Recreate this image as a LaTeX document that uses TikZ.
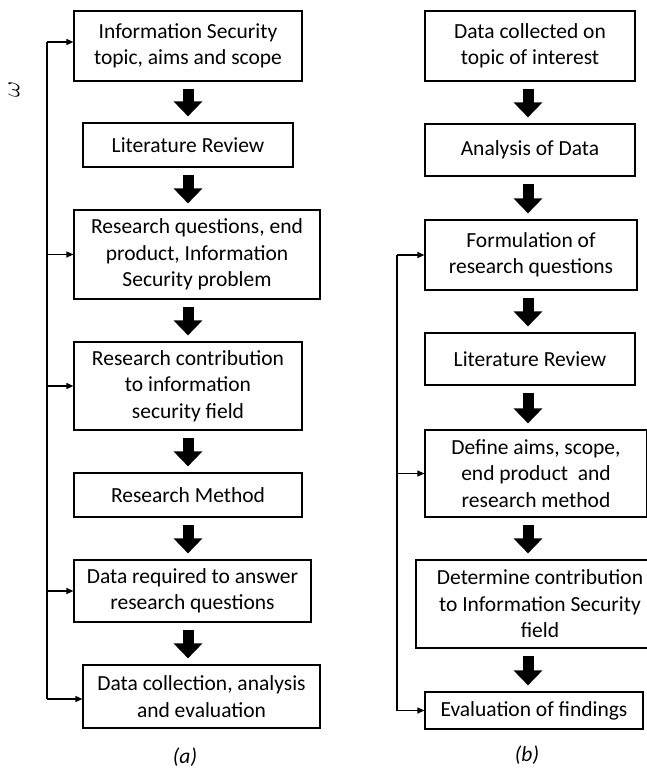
\documentclass[tikz,border=0pt]{standalone}
\usepackage{fontspec}
\setmainfont{Carlito}
\usetikzlibrary{arrows.meta}

\tikzstyle{stepbox} = [draw=black, line width=1.2pt, rectangle, inner sep=0pt,
    align=center, font=\fontsize{21.5}{26.5}\selectfont]
\tikzstyle{bigarrow} = [line width=11pt, -{Triangle[length=15pt,width=28pt]},
    shorten <=7pt, shorten >=6pt]
\tikzstyle{loopline} = [line width=1.4pt]
\tikzstyle{looparrow} = [line width=1.2pt, -{Triangle[length=7pt,width=6pt]}]
\tikzstyle{caption} = [font=\fontsize{21.5}{24}\selectfont\itshape]

\begin{document}
\begin{tikzpicture}[x=1pt,y=-1pt]
\useasboundingbox (0,0) rectangle (646,769);

% (a)
\node [stepbox, minimum width=228pt, minimum height=70pt] (topic) at (188,46)
    {Information Security\\topic, aims and scope};
\node [stepbox, minimum width=210pt, minimum height=44pt] (litrev) at (188,145)
    {Literature Review};
\node [stepbox, minimum width=246pt, minimum height=89pt] (questions) at (197,254.5)
    {Research questions, end\\product, Information\\Security problem};
\node [stepbox, minimum width=228pt, minimum height=88pt] (contrib) at (188,386)
    {Research contribution\\to information\\security field};
\node [stepbox, minimum width=228pt, minimum height=44pt] (method) at (188,495)
    {Research Method};
\node [stepbox, minimum width=237pt, minimum height=62pt] (datareq) at (192.5,591)
    {Data required to answer\\research questions};
\node [stepbox, minimum width=237pt, minimum height=63pt] (collect) at (201.5,696.5)
    {Data collection, analysis\\and evaluation};
\node [caption] (capa) at (185,757) {(a)};
\node [rotate=90, font=\fontsize{26}{26}\selectfont] (mark) at (14,89) {$\omega$};

% (b)
\node [stepbox, minimum width=210pt, minimum height=70pt] (datacoll) at (530,46)
    {Data collected on\\topic of interest};
\node [stepbox, minimum width=210pt, minimum height=52pt] (analysis) at (530,150)
    {Analysis of Data};
\node [stepbox, minimum width=212pt, minimum height=70pt] (formul) at (531,255)
    {Formulation of\\research questions};
\node [stepbox, minimum width=210pt, minimum height=52pt] (litrevb) at (530,359)
    {Literature Review};
\node [stepbox, minimum width=222pt, minimum height=87pt] (define) at (536,473.5)
    {Define aims, scope,\\end product\ \ and\\research method};
\node [stepbox, minimum width=248pt, minimum height=88pt] (determine) at (540,604)
    {Determine contribution\\to Information Security\\field};
\node [stepbox, minimum width=218pt, minimum height=37pt] (evaluate) at (534,710.5)
    {Evaluation of findings};
\node [caption] (capb) at (527,755) {(b)};

\foreach \a/\b in {topic/litrev, litrev/questions, questions/contrib,
    contrib/method, method/datareq, datareq/collect}
    \draw [bigarrow] (\a.south -| topic) -- (\b.north -| topic);
\foreach \a/\b in {datacoll/analysis, analysis/formul, formul/litrevb,
    litrevb/define, define/determine, determine/evaluate}
    \draw [bigarrow] (\a.south -| 528,0) -- (\b.north -| 528,0);

\coordinate (spinea) at (47,0);
\coordinate (spineb) at (397,0);
\draw [loopline] ([yshift=4pt]spinea |- topic.west) -- ([yshift=-2.5pt]spinea |- collect.west);
\draw [looparrow] ([yshift=4pt]spinea |- topic.west) -- ([yshift=4pt]topic.west);
\draw [looparrow] ([yshift=-2.5pt]spinea |- collect.west) -- ([yshift=-2.5pt]collect.west);
\foreach \n in {questions, contrib, datareq}
    \draw [looparrow] (spinea |- \n.west) -- (\n.west);
\draw [loopline] (spineb |- formul.west) -- (spineb |- evaluate.west);
\foreach \n in {formul, define, evaluate}
    \draw [looparrow] (spineb |- \n.west) -- (\n.west);
\end{tikzpicture}
\end{document}
